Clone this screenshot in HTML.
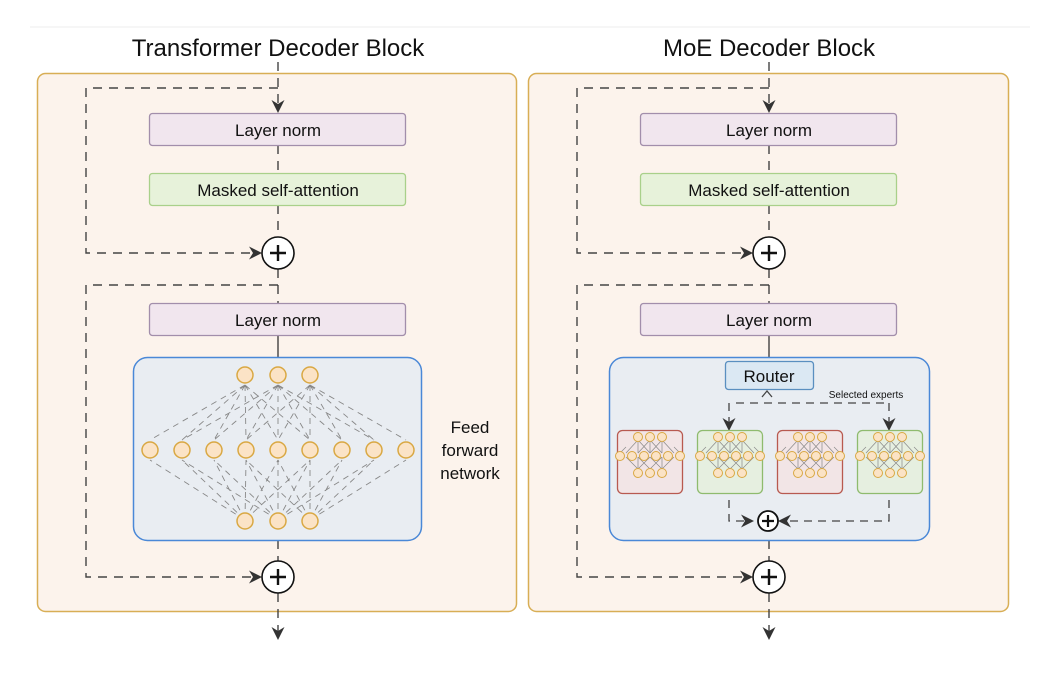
<!DOCTYPE html>
<html><head><meta charset="utf-8"><style>
html,body{margin:0;padding:0;background:#fff;width:1060px;height:684px;overflow:hidden}
text{font-family:"Liberation Sans",sans-serif;fill:#111}
</style></head><body>
<svg width="1060" height="684" viewBox="0 0 1060 684" xmlns="http://www.w3.org/2000/svg">
<defs>
<marker id="ah" markerWidth="13" markerHeight="13" refX="11" refY="6.5" orient="auto" markerUnits="userSpaceOnUse"><path d="M0,0 L13,6.5 L0,13 L4,6.5 Z" fill="#333"/></marker>
<g id="mini">
 <g stroke="#888" stroke-width="0.7">
  <path d="M-12,-25 L-24,-12 M-12,-25 L-12,-12 M-12,-25 L0,-12 M0,-25 L-12,-12 M0,-25 L0,-12 M0,-25 L12,-12 M12,-25 L0,-12 M12,-25 L12,-12 M12,-25 L24,-12 M-24,-8 L-12,4 M-12,-8 L-12,4 M-12,-8 L0,4 M0,-8 L-12,4 M0,-8 L12,4 M12,-8 L0,4 M12,-8 L12,4 M24,-8 L12,4 M-30,-12 L-24,-18 M30,-12 L24,-18"/>
 </g>
 <g fill="#fbe3c6" stroke="#d9a843" stroke-width="1">
  <circle cx="-12" cy="-28" r="4.5"/><circle cx="0" cy="-28" r="4.5"/><circle cx="12" cy="-28" r="4.5"/>
  <circle cx="-30" cy="-9" r="4.5"/><circle cx="-18" cy="-9" r="4.5"/><circle cx="-6" cy="-9" r="4.5"/><circle cx="6" cy="-9" r="4.5"/><circle cx="18" cy="-9" r="4.5"/><circle cx="30" cy="-9" r="4.5"/>
  <circle cx="-12" cy="8" r="4.5"/><circle cx="0" cy="8" r="4.5"/><circle cx="12" cy="8" r="4.5"/>
 </g>
</g>
</defs>
<line x1="30" y1="27" x2="1030" y2="27" stroke="#eee"/>
<text x="278" y="56" font-size="24" text-anchor="middle">Transformer Decoder Block</text>
<text x="769" y="56" font-size="24" text-anchor="middle">MoE Decoder Block</text>

<rect x="37.5" y="73.5" width="479" height="538" rx="8" fill="#fcf3ec" stroke="#d8ae55" stroke-width="1.5"/>
<rect x="528.5" y="73.5" width="480" height="538" rx="8" fill="#fcf3ec" stroke="#d8ae55" stroke-width="1.5"/>

<g id="leftflow">
 <g fill="none" stroke="#444" stroke-width="1.4" stroke-dasharray="9,7">
  <line x1="278" y1="62" x2="278" y2="111" marker-end="url(#ah)"/>
  <path d="M278,88 H86 V253 H260" marker-end="url(#ah)"/>
  <path d="M278,285 H86 V577 H260" marker-end="url(#ah)"/>
  <line x1="278" y1="593" x2="278" y2="638" marker-end="url(#ah)"/>
 </g>
 <g stroke="#333" stroke-width="1.3">
  <line x1="278" y1="145" x2="278" y2="173" stroke-dasharray="9,7"/>
  <line x1="278" y1="205" x2="278" y2="237" stroke-dasharray="9,7"/>
  <line x1="278" y1="269" x2="278" y2="303" stroke-dasharray="9,7"/>
  <line x1="278" y1="335" x2="278" y2="357"/>
  <line x1="278" y1="540" x2="278" y2="561" stroke-dasharray="9,7"/>
 </g>
 <rect x="149.5" y="113.5" width="256" height="32" rx="3" fill="#f1e6ee" stroke="#a28eab" stroke-width="1.3"/>
 <text x="278" y="136" font-size="17" text-anchor="middle">Layer norm</text>
 <rect x="149.5" y="173.5" width="256" height="32" rx="3" fill="#e7f2da" stroke="#a9d08a" stroke-width="1.3"/>
 <text x="278" y="196" font-size="17" text-anchor="middle">Masked self-attention</text>
 <circle cx="278" cy="253" r="16" fill="#fff" stroke="#111" stroke-width="1.6"/>
 <path d="M270,253 H286 M278,245 V261" stroke="#111" stroke-width="2.4"/>
 <rect x="149.5" y="303.5" width="256" height="32" rx="3" fill="#f1e6ee" stroke="#a28eab" stroke-width="1.3"/>
 <text x="278" y="326" font-size="17" text-anchor="middle">Layer norm</text>
 <circle cx="278" cy="577" r="16" fill="#fff" stroke="#111" stroke-width="1.6"/>
 <path d="M270,577 H286 M278,569 V585" stroke="#111" stroke-width="2.4"/>
</g>

<rect x="133.5" y="357.5" width="288" height="183" rx="14" fill="#e9edf2" stroke="#4a88d7" stroke-width="1.5"/>
<g stroke="#888" stroke-width="0.9" stroke-dasharray="6,5">
 <path d="M245,385 L150,440 M245,385 L182,440 M245,385 L214,440 M245,385 L246,440 M245,385 L278,440 M245,385 L310,440 M278,385 L182,440 M278,385 L214,440 M278,385 L246,440 M278,385 L278,440 M278,385 L310,440 M278,385 L342,440 M278,385 L374,440 M310,385 L246,440 M310,385 L278,440 M310,385 L310,440 M310,385 L342,440 M310,385 L374,440 M310,385 L406,440"/>
 <path d="M245,520 L150,460 M245,520 L182,460 M245,520 L214,460 M245,520 L246,460 M245,520 L278,460 M245,520 L310,460 M278,520 L182,460 M278,520 L214,460 M278,520 L246,460 M278,520 L278,460 M278,520 L310,460 M278,520 L342,460 M278,520 L374,460 M310,520 L246,460 M310,520 L278,460 M310,520 L310,460 M310,520 L342,460 M310,520 L374,460 M310,520 L406,460"/>
</g>
<g fill="#fbe3c6" stroke="#d9a843" stroke-width="1.5">
 <circle cx="245" cy="375" r="8"/><circle cx="278" cy="375" r="8"/><circle cx="310" cy="375" r="8"/>
 <circle cx="150" cy="450" r="8"/><circle cx="182" cy="450" r="8"/><circle cx="214" cy="450" r="8"/><circle cx="246" cy="450" r="8"/><circle cx="278" cy="450" r="8"/><circle cx="310" cy="450" r="8"/><circle cx="342" cy="450" r="8"/><circle cx="374" cy="450" r="8"/><circle cx="406" cy="450" r="8"/>
 <circle cx="245" cy="521" r="8"/><circle cx="278" cy="521" r="8"/><circle cx="310" cy="521" r="8"/>
</g>
<text x="470" y="433" font-size="17" text-anchor="middle">Feed</text>
<text x="470" y="456" font-size="17" text-anchor="middle">forward</text>
<text x="470" y="479" font-size="17" text-anchor="middle">network</text>

<use href="#leftflow" x="491" y="0"/>

<rect x="609.5" y="357.5" width="320" height="183" rx="14" fill="#e9edf2" stroke="#4a88d7" stroke-width="1.5"/>
<rect x="725.5" y="361.5" width="88" height="28" rx="3" fill="#dbe8f3" stroke="#5a8fc0" stroke-width="1.3"/>
<text x="769" y="382" font-size="17" text-anchor="middle">Router</text>
<text x="866" y="398" font-size="10" text-anchor="middle">Selected experts</text>
<g fill="none" stroke="#444" stroke-width="1.3" stroke-dasharray="8,6">
 <path d="M736,403 H888"/>
 <line x1="729" y1="403" x2="729" y2="429" marker-end="url(#ah)"/>
 <line x1="889" y1="403" x2="889" y2="429" marker-end="url(#ah)"/>
 <path d="M729,500 V521 H752" marker-end="url(#ah)"/>
 <path d="M889,500 V521 H780" marker-end="url(#ah)"/>
</g>
<path d="M762,397 L767,391 L772,397" fill="none" stroke="#444" stroke-width="1.3"/>
<rect x="617.5" y="430.5" width="65" height="63" rx="5" fill="#f2e5e6" stroke="#b85a50" stroke-width="1.3"/>
<rect x="697.5" y="430.5" width="65" height="63" rx="5" fill="#e6efe0" stroke="#8fbb6e" stroke-width="1.3"/>
<rect x="777.5" y="430.5" width="65" height="63" rx="5" fill="#f2e5e6" stroke="#b85a50" stroke-width="1.3"/>
<rect x="857.5" y="430.5" width="65" height="63" rx="5" fill="#e6efe0" stroke="#8fbb6e" stroke-width="1.3"/>
<use href="#mini" x="650" y="465"/>
<use href="#mini" x="730" y="465"/>
<use href="#mini" x="810" y="465"/>
<use href="#mini" x="890" y="465"/>
<circle cx="768" cy="521" r="10" fill="#fff" stroke="#111" stroke-width="1.8"/>
<path d="M762,521 H774 M768,515 V527" stroke="#111" stroke-width="2.2"/>
</svg>
</body></html>
